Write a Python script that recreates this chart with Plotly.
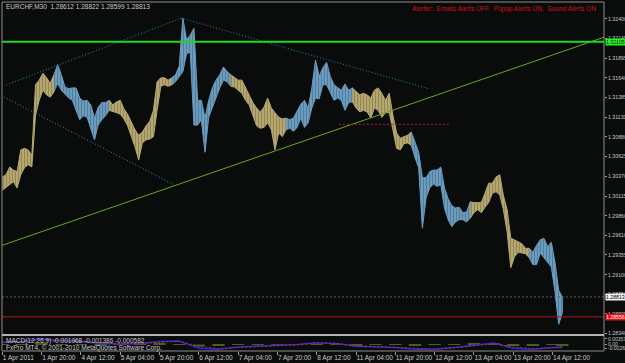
import plotly.graph_objects as go

# ---------------- data ----------------
symbol_title = "EURCHF,M30  1.28612 1.28822 1.28599 1.28813"
alert_text = "Alerter:  Emails Alerts OFF.  Popup Alerts ON.  Sound Alerts ON"
macd_title = "MACD(12,26,9) -0.001968 -0.001386 -0.000582"
copyright_text = "FxPro MT4, \u00a9 2001-2010 MetaQuotes Software Corp."

# bar index (M30 bars since 1 Apr 04:00), sampled every 3 bars
bar_index = list(range(0, 457, 3))

highs = [1.3036, 1.3039, 1.3049, 1.3045, 1.3043, 1.3071, 1.3073, 1.3071, 1.3064, 1.3155, 1.3161, 1.3170, 1.3164, 1.3157,
         1.3168, 1.3181, 1.3168, 1.3152, 1.3150, 1.3151, 1.3151, 1.3138, 1.3134, 1.3135, 1.3129, 1.3112, 1.3126, 1.3132, 1.3132,
         1.3135, 1.3129, 1.3133, 1.3135, 1.3124, 1.3117, 1.3107, 1.3097, 1.3090, 1.3094, 1.3102, 1.3108, 1.3122, 1.3159, 1.3164, 1.3164, 1.3161,
         1.3164, 1.3168, 1.3179, 1.3241, 1.3213, 1.3219, 1.3228, 1.3135, 1.3135, 1.3112, 1.3135, 1.3151, 1.3161, 1.3168, 1.3178, 1.3172,
         1.3168, 1.3165, 1.3161, 1.3161, 1.3151, 1.3143, 1.3132, 1.3125, 1.3120, 1.3126, 1.3138, 1.3125, 1.3119, 1.3113, 1.3111,
         1.3112, 1.3110, 1.3112, 1.3122, 1.3130, 1.3135, 1.3125, 1.3151, 1.3187, 1.3166, 1.3177, 1.3184, 1.3166, 1.3155, 1.3152, 1.3148, 1.3156, 1.3148,
         1.3151, 1.3146, 1.3142, 1.3144, 1.3142, 1.3138, 1.3148, 1.3151, 1.3144, 1.3135, 1.3144, 1.3116, 1.3093, 1.3086, 1.3088, 1.3090,
         1.3094, 1.3081, 1.3068, 1.3035, 1.3035, 1.3043, 1.3045, 1.3045, 1.3049, 1.3022, 1.3008, 1.2999, 1.2996, 1.2997, 1.2990, 1.2991,
         1.3004, 1.3003, 1.3003, 1.3003, 1.3015, 1.3028, 1.3028, 1.3036, 1.3039, 1.3012, 1.2994, 1.2957, 1.2955, 1.2952, 1.2950, 1.2944,
         1.2944, 1.2939, 1.2948, 1.2955, 1.2957, 1.2946, 1.2952, 1.2926, 1.2890, 1.2881]

lows = [1.3019, 1.3023, 1.3026, 1.3030, 1.3022, 1.3039, 1.3048, 1.3052, 1.3049, 1.3116, 1.3135, 1.3148, 1.3142, 1.3139,
        1.3146, 1.3157, 1.3148, 1.3143, 1.3138, 1.3135, 1.3122, 1.3110, 1.3115, 1.3113, 1.3099, 1.3084, 1.3103, 1.3110, 1.3115,
        1.3122, 1.3121, 1.3119, 1.3117, 1.3111, 1.3102, 1.3089, 1.3075, 1.3058, 1.3080, 1.3084, 1.3085, 1.3088, 1.3122, 1.3153, 1.3155, 1.3153,
        1.3155, 1.3159, 1.3166, 1.3172, 1.3195, 1.3197, 1.3103, 1.3103, 1.3110, 1.3068, 1.3113, 1.3125, 1.3138, 1.3151, 1.3161, 1.3159,
        1.3153, 1.3152, 1.3148, 1.3144, 1.3135, 1.3129, 1.3115, 1.3102, 1.3099, 1.3100, 1.3106, 1.3097, 1.3071, 1.3093, 1.3088,
        1.3097, 1.3099, 1.3095, 1.3100, 1.3112, 1.3100, 1.3106, 1.3125, 1.3138, 1.3137, 1.3155, 1.3155, 1.3144, 1.3135, 1.3138, 1.3135, 1.3122, 1.3132,
        1.3133, 1.3125, 1.3120, 1.3122, 1.3120, 1.3112, 1.3125, 1.3122, 1.3113, 1.3119, 1.3119, 1.3097, 1.3073, 1.3071, 1.3079, 1.3080,
        1.3077, 1.3061, 1.3048, 1.2970, 1.3009, 1.3022, 1.3027, 1.3024, 1.3026, 1.2996, 1.2981, 1.2972, 1.2978, 1.2981, 1.2981, 1.2978,
        1.2983, 1.2990, 1.2994, 1.2990, 1.2997, 1.3003, 1.3015, 1.3017, 1.3013, 1.2994, 1.2965, 1.2919, 1.2933, 1.2939, 1.2938, 1.2937,
        1.2932, 1.2923, 1.2923, 1.2938, 1.2932, 1.2926, 1.2920, 1.2888, 1.2846, 1.2861]

# bar direction per sample (u = bullish colour, d = bearish colour)
trend = ("u" * 14 + "d" * 15 + "u" * 17 + "d" * 16 + "u" * 15 +
         "d" * 18 + "u" * 16 + "d" * 16 + "u" * 16 + "d" * 10)

# MACD sub-window
macd_index = [0, 16, 32, 48, 64, 80, 96, 112, 128, 144, 160, 176, 192, 208, 224,
              240, 256, 272, 288, 304, 320, 336, 352, 368, 384, 400, 416, 432, 448, 456]
macd_main = [0.0014, 0.0019, 0.0037, 0.0025, 0.0019, 0.0006, 0.0003, 0.0006, 0.0019, 0.0022,
             -0.0025, -0.0031, -0.0016, -0.0012, -0.0006, 0.0000, 0.0012, 0.0006, -0.0012, -0.0016,
             -0.0019, -0.0031, -0.0031, -0.0019, -0.0003, 0.0009, -0.0025, -0.0031, -0.0019, -0.0020]
macd_signal = [0.0012, 0.0016, 0.0030, 0.0028, 0.0021, 0.0010, 0.0005, 0.0005, 0.0015, 0.0020,
               -0.0012, -0.0026, -0.0019, -0.0014, -0.0008, -0.0002, 0.0009, 0.0007, -0.0008, -0.0014,
               -0.0018, -0.0027, -0.0030, -0.0022, -0.0008, 0.0005, -0.0016, -0.0027, -0.0021, -0.0014]
macd_osma = [0.0002, 0.0003, 0.0007, -0.0003, -0.0002, -0.0004, -0.0002, 0.0001, 0.0004, 0.0002,
             -0.0013, -0.0005, 0.0003, 0.0002, 0.0002, 0.0002, 0.0003, -0.0001, -0.0004, -0.0002,
             -0.0001, -0.0004, -0.0001, 0.0003, 0.0005, 0.0004, -0.0009, -0.0004, 0.0002, -0.0006]

# axis labels
x_tick_index = [0, 32, 64, 96, 128, 160, 192, 224, 256, 288, 320, 352, 384, 416, 448]
x_tick_text = ["1 Apr 2011", "1 Apr 20:00", "4 Apr 12:00", "5 Apr 04:00", "5 Apr 20:00",
               "6 Apr 12:00", "7 Apr 04:00", "7 Apr 20:00", "8 Apr 12:00", "11 Apr 04:00",
               "11 Apr 20:00", "12 Apr 12:00", "13 Apr 04:00", "13 Apr 20:00", "14 Apr 12:00"]
price_ticks = [1.32400, 1.32145, 1.31895, 1.31640, 1.31385, 1.31130, 1.30880, 1.30625, 1.30370,
               1.30115, 1.29860, 1.29610, 1.29355, 1.29100, 1.28850, 1.28595, 1.28340]
macd_ticks = [0.00357, 0.0, -0.00263]
macd_tick_text = ["0.00357", "0.00", "-0.00263"]

# drawn objects
green_level = 1.32105
bid_level = 1.28813
red_level = 1.28556
trend_x = [0, 491]
trend_p = [1.2948, 1.3217]
chan_upper_left_x = [3.3, 145.8]
chan_upper_left_p = [1.3155, 1.3241]
chan_upper_right_x = [145.8, 347]
chan_upper_right_p = [1.3241, 1.3150]
chan_lower_x = [1.6, 140]
chan_lower_p = [1.3139, 1.3026]
red_dash_x = [274, 364]
red_dash_p = [1.3104, 1.3104]

# ---------------- styles ----------------
BG = "#0a0c0c"
TAN = "#b5a76e"
TAN_DARK = "#6e6540"
BLUE = "#6a9cbf"
BLUE_DARK = "#3c5c74"
AXIS = "#9a9a9a"
TXT = "#c8c8c8"
FONT = "Liberation Sans"
NARROW = "Liberation Sans Narrow, Liberation Sans"

fig = go.Figure()

# price: each run of same-direction bars drawn as a high/low band with bar texture
runs = []
start = 0
for i in range(1, len(trend) + 1):
    if i == len(trend) or trend[i] != trend[start]:
        runs.append((start, i - 1, trend[start]))
        start = i
for s, e, key in runs:
    stop = min(e + 1, len(bar_index) - 1)
    xs = bar_index[s:stop + 1]
    hs = highs[s:stop + 1]
    ls = lows[s:stop + 1]
    col, dark = (TAN, TAN_DARK) if key == "u" else (BLUE, BLUE_DARK)
    fig.add_trace(go.Scatter(
        x=xs + xs[::-1], y=hs + ls[::-1], mode="lines", fill="toself",
        fillcolor=col,
        fillpattern=dict(shape="|", size=3, solidity=0.35, fgcolor=dark, bgcolor=col),
        line=dict(color=col, width=1),
        yaxis="y", hoverinfo="skip", showlegend=False))

# trend line and channel lines
fig.add_trace(go.Scatter(x=trend_x, y=trend_p, mode="lines",
                         line=dict(color="#6aa51c", width=1), yaxis="y", hoverinfo="skip"))
for xs, ps in ((chan_upper_left_x, chan_upper_left_p),
               (chan_upper_right_x, chan_upper_right_p),
               (chan_lower_x, chan_lower_p)):
    fig.add_trace(go.Scatter(x=xs, y=ps, mode="lines",
                             line=dict(color="#2088ad", width=1, dash="1px,2px"),
                             yaxis="y", hoverinfo="skip"))
fig.add_trace(go.Scatter(x=red_dash_x, y=red_dash_p, mode="lines",
                         line=dict(color="#c81e1e", width=1, dash="2px,2px"),
                         yaxis="y", hoverinfo="skip"))

# MACD
fig.add_trace(go.Bar(x=macd_index, y=macd_osma, width=10,
                     marker=dict(color="#3d6420", line=dict(width=0)),
                     yaxis="y2", hoverinfo="skip"))
fig.add_trace(go.Scatter(x=macd_index, y=macd_main, mode="lines",
                         line=dict(color="#2a2ae6", width=1.5), yaxis="y2", hoverinfo="skip"))
fig.add_trace(go.Scatter(x=macd_index, y=macd_signal, mode="lines",
                         line=dict(color="#e02020", width=1, dash="2px,2px"),
                         yaxis="y2", hoverinfo="skip"))

shapes = [
    dict(type="line", xref="paper", x0=0, x1=1, yref="y", y0=green_level, y1=green_level,
         line=dict(color="#22d622", width=2)),
    dict(type="line", xref="paper", x0=0, x1=1, yref="y", y0=bid_level, y1=bid_level,
         line=dict(color="#5c5c5c", width=1, dash="2px,2px")),
    dict(type="line", xref="paper", x0=0, x1=1, yref="y", y0=red_level, y1=red_level,
         line=dict(color="#b01818", width=1)),
    dict(type="rect", xref="paper", yref="paper", x0=0, x1=1, y0=0, y1=1,
         line=dict(color="#8c8c8c", width=1)),
    dict(type="line", xref="paper", yref="paper", x0=0, x1=1, y0=0.0458, y1=0.0458,
         line=dict(color="#b4b4b4", width=2)),
]

annos = [
    dict(text=symbol_title, xref="paper", yref="paper", x=0.004, y=0.986, xanchor="left",
         yanchor="middle", showarrow=False, font=dict(family=FONT, size=6.5, color=TXT)),
    dict(text=alert_text, xref="paper", yref="paper", x=0.990, y=0.980, xanchor="right",
         yanchor="middle", showarrow=False, font=dict(family=FONT, size=6.5, color="#d01010")),
    dict(text=macd_title, xref="paper", yref="paper", x=0.004, y=0.028, xanchor="left",
         yanchor="middle", showarrow=False, font=dict(family=FONT, size=6.5, color=TXT)),
    dict(text=copyright_text, xref="paper", yref="paper", x=0.004, y=0.010, xanchor="left",
         yanchor="middle", showarrow=False, font=dict(family=FONT, size=6.5, color=TXT)),
]
for lvl, bg, fg in ((green_level, "#2aee2a", "#0a300a"),
                    (bid_level, "#f4f4f4", "#000000"),
                    (red_level, "#e01010", "#ffffff")):
    annos.append(dict(text=f"{lvl:.5f}", xref="paper", yref="y", x=1.0, y=lvl,
                      xanchor="left", yanchor="middle", xshift=1, showarrow=False,
                      bgcolor=bg, borderpad=0,
                      font=dict(family=NARROW, size=5.2, color=fg)))

fig.update_layout(
    width=625, height=363,
    margin=dict(l=2, r=21, t=2, b=12),
    paper_bgcolor=BG, plot_bgcolor=BG,
    barmode="overlay", showlegend=False,
    shapes=shapes, annotations=annos,
    xaxis=dict(range=[-0.3, 489.9], anchor="y2", tickvals=x_tick_index, ticktext=x_tick_text,
               ticks="outside", ticklen=3, tickcolor=AXIS, ticklabelposition="outside right",
               tickangle=0, automargin=False,
               tickfont=dict(family=FONT, size=6.5, color=TXT),
               showgrid=False, zeroline=False, showline=False),
    yaxis=dict(domain=[0.0487, 1], range=[1.28335, 1.32618], side="right", anchor="x",
               tickvals=price_ticks, ticktext=[f"{v:.5f}" for v in price_ticks],
               ticks="outside", ticklen=2, tickcolor=AXIS, automargin=False,
               ticklabelstandoff=0,
               tickfont=dict(family=NARROW, size=5.2, color=TXT),
               showgrid=False, zeroline=False, showline=False),
    yaxis2=dict(domain=[0, 0.043], range=[-0.0042, 0.0055], side="right", anchor="x",
                tickvals=macd_ticks, ticktext=macd_tick_text,
                ticks="outside", ticklen=2, tickcolor=AXIS, automargin=False,
                ticklabelstandoff=0,
                tickfont=dict(family=NARROW, size=5, color=TXT),
                showgrid=False, zeroline=False, showline=False),
)

fig.write_html("out.html")
